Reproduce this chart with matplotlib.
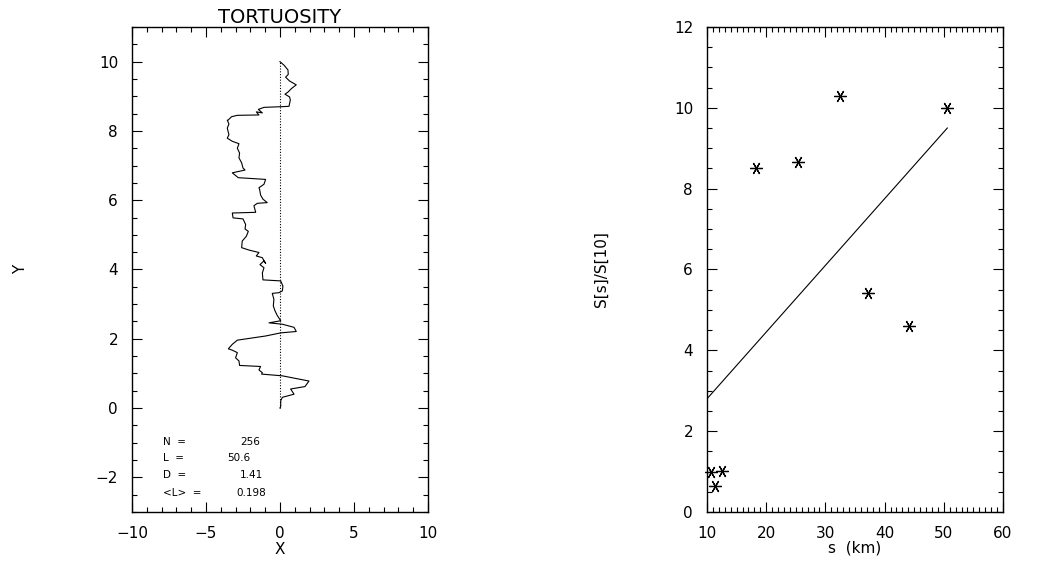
import matplotlib
matplotlib.use("Agg")
import matplotlib.pyplot as plt
from matplotlib.ticker import MultipleLocator

plt.rcParams['font.family'] = ['DejaVu Sans']

# left panel: traced path, bottom (0, 0) to top (0, 10)
path_x = [0.0, 0.05, 0.05, 0.16, 0.95, 0.72, 1.69, 1.96, 0.16, -1.24, -1.19, -1.42,
          -1.31, -2.73, -2.77, -3.00, -2.88, -3.22, -3.49, -3.22, -2.88, -0.97, 0.05,
          1.10, 0.95, 0.16, -0.74, 0.05, -0.18, -0.34, -0.45, -0.41, -0.52, -0.07,
          0.16, 0.20, 0.05, -1.15, -1.19, -1.08, -1.35, -1.08, -0.97, -1.08, -1.19,
          -1.60, -1.42, -2.09, -2.59, -2.55, -2.27, -2.14, -2.36, -2.32, -2.50, -3.17,
          -3.22, -1.64, -1.76, -1.53, -0.86, -1.15, -1.31, -1.37, -1.42, -1.08, -0.97,
          -2.82, -3.22, -2.36, -2.50, -2.59, -2.77, -2.73, -2.88, -2.77, -3.22, -3.56,
          -3.45, -3.56, -3.45, -3.56, -3.51, -3.27, -2.88, -1.42, -1.60, -1.19, -1.46,
          -1.08, 0.16, 0.61, 0.70, 0.65, 0.34, 0.54, 0.77, 1.10, 0.65, 0.38, 0.56,
          0.54, 0.29, 0.0]
path_y = [0.0, 0.05, 0.21, 0.31, 0.40, 0.55, 0.62, 0.78, 0.93, 0.98, 1.02, 1.10,
          1.20, 1.23, 1.36, 1.45, 1.60, 1.67, 1.71, 1.84, 1.96, 2.08, 2.17,
          2.21, 2.33, 2.42, 2.46, 2.52, 2.67, 2.81, 2.95, 3.14, 3.31, 3.33,
          3.38, 3.52, 3.67, 3.70, 3.90, 4.05, 4.14, 4.25, 4.18, 4.25, 4.34,
          4.39, 4.49, 4.56, 4.63, 4.82, 4.96, 5.10, 5.17, 5.30, 5.46, 5.49,
          5.63, 5.65, 5.84, 5.91, 5.93, 6.03, 6.15, 6.30, 6.36, 6.46, 6.60,
          6.65, 6.79, 6.87, 6.93, 7.08, 7.22, 7.36, 7.50, 7.63, 7.70, 7.79,
          7.89, 8.08, 8.20, 8.31, 8.31, 8.41, 8.45, 8.46, 8.55, 8.52, 8.62,
          8.68, 8.70, 8.71, 8.89, 8.98, 9.06, 9.12, 9.22, 9.33, 9.44, 9.55, 9.63,
          9.76, 9.89, 10.0]
ref_x = [0, 0]
ref_y = [0, 10]

stat_names = ['N  =', 'L  =', 'D  =', '<L>  =']
stat_values = ['256', '50.6', '1.41', '0.198']
stat_value_x = [-2.70, -3.60, -2.70, -2.93]
stat_y = [-0.97, -1.45, -1.93, -2.44]

# right panel
s_km = [10.7, 11.3, 12.6, 18.3, 25.4, 32.4, 37.2, 44.2, 50.6]
ratio = [1.00, 0.64, 1.02, 8.50, 8.66, 10.30, 5.41, 4.60, 9.99]
fit_x = [10.0, 50.6]
fit_y = [2.8, 9.5]

fig = plt.figure(figsize=(10.4, 5.62), dpi=100)
ax1 = fig.add_axes([0.1269, 0.089, 0.2846, 0.863])
ax2 = fig.add_axes([0.6798, 0.089, 0.2846, 0.863])

ax1.plot(path_x, path_y, color='black', lw=0.8)
ax1.plot(ref_x, ref_y, color='black', lw=0.8, ls=(0, (1, 1.5)))
for name, val, vx, ty in zip(stat_names, stat_values, stat_value_x, stat_y):
    ax1.text(-7.9, ty, name, fontsize=7.5, va='center')
    ax1.text(vx, ty, val, fontsize=7.5, va='center')
ax1.set_xlim(-10, 10)
ax1.set_ylim(-3, 11)
ax1.xaxis.set_major_locator(MultipleLocator(5))
ax1.xaxis.set_minor_locator(MultipleLocator(1))
ax1.yaxis.set_major_locator(MultipleLocator(2))
ax1.yaxis.set_minor_locator(MultipleLocator(0.5))
ax1.set_title('TORTUOSITY', fontsize=14, pad=3)
ax1.set_xlabel('X', fontsize=11, labelpad=1)
ax1.set_ylabel('Y', fontsize=11, labelpad=49)

ax2.plot(s_km, ratio, ls='none', marker=(6, 2, 90), ms=9, mew=0.9, color='black',
         clip_on=False)
ax2.plot(fit_x, fit_y, color='black', lw=0.8)
ax2.set_xlim(10, 60)
ax2.set_ylim(0, 12)
ax2.xaxis.set_major_locator(MultipleLocator(10))
ax2.xaxis.set_minor_locator(MultipleLocator(1))
ax2.yaxis.set_major_locator(MultipleLocator(2))
ax2.yaxis.set_minor_locator(MultipleLocator(0.5))
ax2.set_xlabel('s  (km)', fontsize=11, labelpad=0)
ax2.set_ylabel('S[s]/S[10]', fontsize=11, labelpad=47)

for ax in (ax1, ax2):
    for sp in ax.spines.values():
        sp.set_linewidth(1.0)
    ax.tick_params(which='both', direction='in', top=True, right=True,
                   labelsize=11, width=0.8)
    ax.tick_params(which='major', length=7, pad=10)
    ax.tick_params(which='minor', length=3.5)

fig.savefig('out.png', dpi=100)
